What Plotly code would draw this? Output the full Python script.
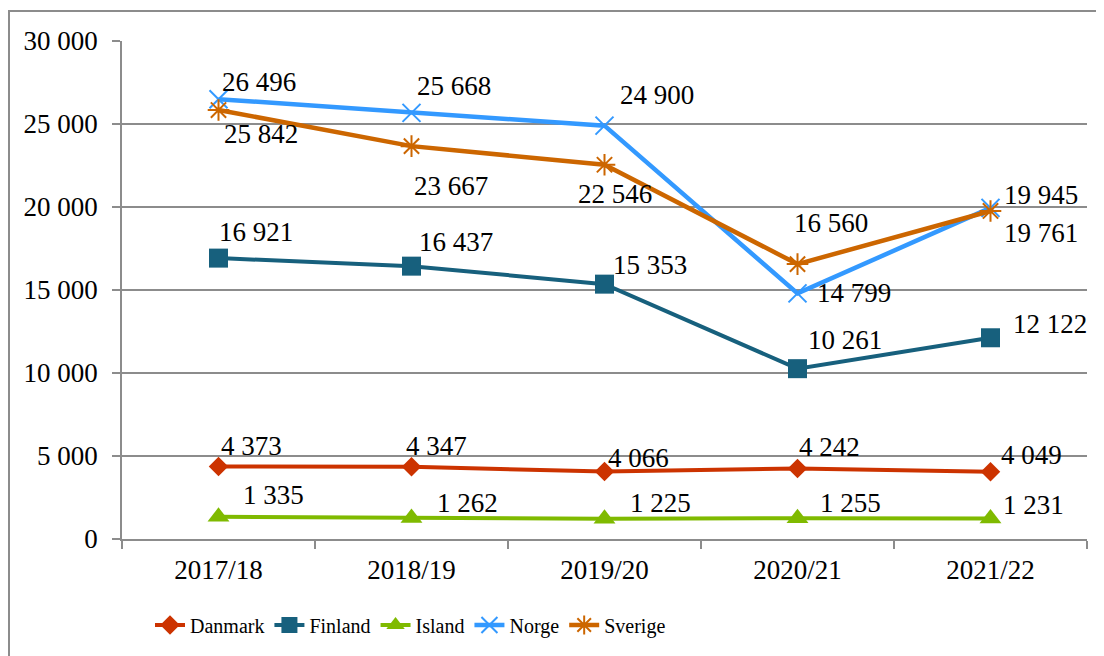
import plotly.graph_objects as go

years = ["2017/18", "2018/19", "2019/20", "2020/21", "2021/22"]
danmark = [4373, 4347, 4066, 4242, 4049]
finland = [16921, 16437, 15353, 10261, 12122]
island = [1335, 1262, 1225, 1255, 1231]
norge = [26496, 25668, 24900, 14799, 19945]
sverige = [25842, 23667, 22546, 16560, 19761]

series = [
    ("Danmark", danmark, "#CC3300", "diamond", 15, 4),
    ("Finland", finland, "#17607D", "square", 19, 4),
    ("Island", island, "#7FBA00", "triangle-up", 19, 4),
    ("Norge", norge, "#3399FF", "x-thin", 18, 4.5),
    ("Sverige", sverige, "#CC6600", "asterisk", 18, 4.5),
]

# label offsets (pixels, dx right, dy down) per series/point
label_offsets = {
    "Danmark": [(33, -20), (25, -21), (34, -14), (32, -22), (41, -17)],
    "Finland": [(37, -26), (44, -24), (45, -19), (47, -29), (59, -14)],
    "Island": [(55, -22), (56, -15), (56, -16), (53, -15), (43, -14)],
    "Norge": [(40, -17), (42, -27), (52, -31), (56, 0), (50, -13)],
    "Sverige": [(42, 24), (39, 40), (10, 29), (33, -41), (50, 22)],
}

FONT = "Liberation Serif"
FS = 27

def fmt(v):
    return f"{v:,}".replace(",", " ")

fig = go.Figure()
annotations = []
for name, vals, color, sym, size, lw in series:
    open_sym = sym in ("x-thin", "asterisk")
    fig.add_trace(go.Scatter(
        x=years, y=vals, name=name, mode="lines+markers",
        line=dict(color=color, width=lw),
        marker=dict(symbol=sym, size=size, color=color,
                    line=dict(color=color, width=2 if open_sym else 0)),
        cliponaxis=False,
    ))
    for i, (x, v) in enumerate(zip(years, vals)):
        dx, dy = label_offsets[name][i]
        annotations.append(dict(
            x=x, y=v, xref="x", yref="y", text=fmt(v), showarrow=False,
            xshift=dx, yshift=-dy, xanchor="center", yanchor="middle",
            font=dict(family=FONT, size=FS, color="black"),
        ))

# page body has an 8px margin: figure origin is at (8, 8) on screen
OFF = 8
W, H = 1104 - OFF, 656 - OFF
L, T = 122 - OFF, 41 - OFF
R = W - (1087 - OFF)
B = H - (539 - OFF)
pw, ph = W - L - R, H - T - B
base = 539 - OFF  # zero line in figure px

fig.update_layout(
    width=W, height=H,
    margin=dict(l=L, r=R, t=T, b=B, pad=0),
    paper_bgcolor="white", plot_bgcolor="white",
    separators=", ",
    font=dict(family=FONT, size=FS, color="black"),
    showlegend=True,
    legend=dict(orientation="h", x=(150 - 122) / pw, xanchor="left",
                y=(539 - 625) / ph, yanchor="middle",
                font=dict(family=FONT, size=20), itemwidth=30,
                bgcolor="rgba(0,0,0,0)"),
    annotations=annotations,
    xaxis=dict(type="category", range=[-0.5, 4.5], showgrid=False,
               showline=True, linecolor="#8c8c8c", linewidth=1.5,
               ticks="outside", tickson="boundaries", ticklen=8,
               tickcolor="#8c8c8c", tickwidth=1.5, ticklabelstandoff=6,
               tickfont=dict(family=FONT, size=FS)),
    yaxis=dict(range=[0, 30000], dtick=5000, tickformat=",d",
               showgrid=True, gridcolor="#8c8c8c", gridwidth=1.5,
               showline=True, linecolor="#8c8c8c", linewidth=1.5,
               ticks="outside", ticklen=8, tickcolor="#8c8c8c", tickwidth=1.5,
               ticklabelstandoff=9, zeroline=False,
               tickfont=dict(family=FONT, size=FS)),
    shapes=[dict(type="rect", xref="paper", yref="paper",
                 x0=(1 - L) / pw, x1=(W + 20 - L) / pw,
                 y0=(base - (H + 20)) / ph, y1=(base - 3) / ph,
                 line=dict(color="#8c8c8c", width=2), layer="below")],
)

fig.write_html("out.html")
